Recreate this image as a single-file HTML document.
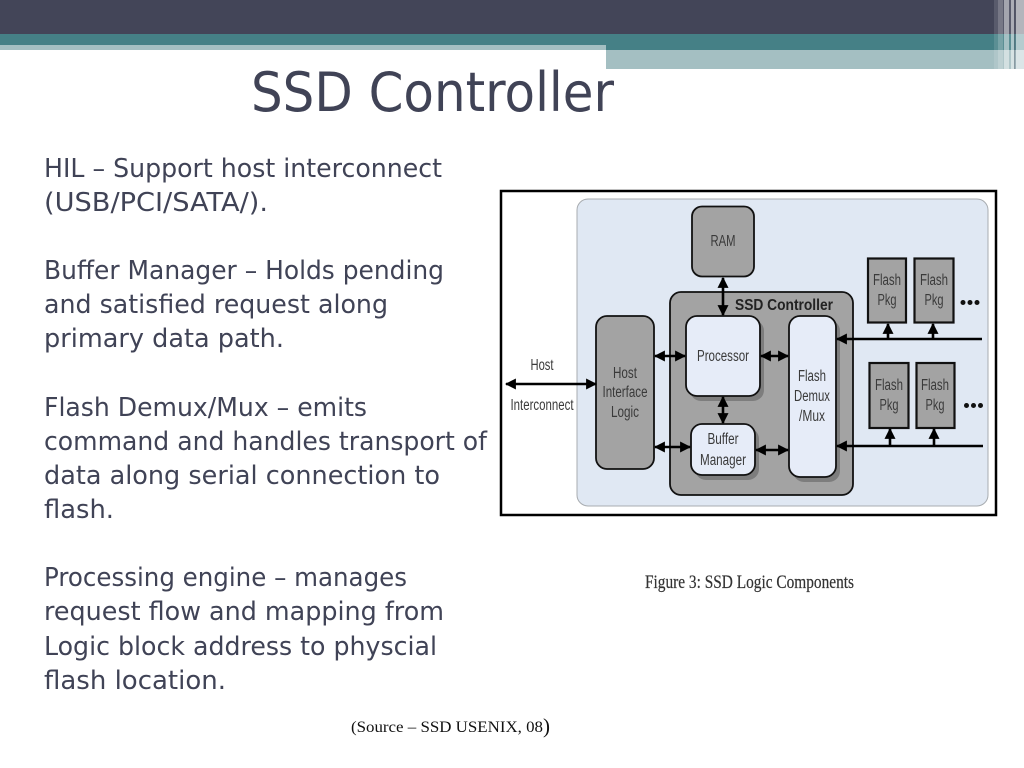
<!DOCTYPE html>
<html>
<head>
<meta charset="utf-8">
<style>
html,body{margin:0;padding:0;background:#fff;width:1024px;height:768px;overflow:hidden}
svg{display:block}
.b{font-family:"DejaVu Sans",sans-serif;font-size:26px;fill:#404356}
.d{font-family:"Liberation Sans",sans-serif;font-size:15.5px;fill:#3a3a3a;text-anchor:middle}
</style>
</head>
<body>
<svg width="1024" height="768" viewBox="0 0 1024 768" xmlns="http://www.w3.org/2000/svg">
<defs>
<marker id="a" viewBox="0 0 10 10" refX="9" refY="5" markerWidth="11" markerHeight="11" markerUnits="userSpaceOnUse" orient="auto-start-reverse"><path d="M0 0L10 5L0 10Z" fill="#000"/></marker>
</defs>
<!-- header -->
<rect x="0" y="0" width="1024" height="34" fill="#434558"/>
<rect x="0" y="34" width="1024" height="11" fill="#458086"/>
<rect x="606" y="45" width="418" height="5" fill="#458086"/>
<rect x="0" y="45" width="606" height="5" fill="#a4bfc2"/>
<rect x="606" y="50" width="418" height="19" fill="#a4bfc2"/>
<!-- right stripes -->
<g>
<rect x="994" y="0" width="30" height="69" fill="#fff" opacity=".12"/>
<rect x="998" y="0" width="5" height="69" fill="#fff" opacity=".18"/>
<rect x="1004" y="0" width="5" height="69" fill="#fff" opacity=".45"/>
<rect x="1011" y="0" width="3" height="69" fill="#fff" opacity=".5"/>
<rect x="1016" y="0" width="8" height="69" fill="#fff" opacity=".55"/>
<rect x="1014" y="0" width="1.500" height="69" fill="#434558" opacity=".35"/>
</g>
<!-- title -->
<text x="251" y="111" font-family="'DejaVu Sans',sans-serif" font-size="54" fill="#404356" textLength="363" lengthAdjust="spacingAndGlyphs">SSD Controller</text>
<!-- body -->
<text class="b" x="44" y="177" textLength="398" lengthAdjust="spacingAndGlyphs">HIL – Support host interconnect</text>
<text class="b" x="44" y="211" textLength="224" lengthAdjust="spacingAndGlyphs">(USB/PCI/SATA/).</text>
<text class="b" x="44" y="279" textLength="400" lengthAdjust="spacingAndGlyphs">Buffer Manager – Holds pending</text>
<text class="b" x="44" y="313" textLength="344" lengthAdjust="spacingAndGlyphs">and satisfied request along</text>
<text class="b" x="44" y="347" textLength="240" lengthAdjust="spacingAndGlyphs">primary data path.</text>
<text class="b" x="44" y="416" textLength="323" lengthAdjust="spacingAndGlyphs">Flash Demux/Mux – emits</text>
<text class="b" x="44" y="450" textLength="443" lengthAdjust="spacingAndGlyphs">command and handles transport of</text>
<text class="b" x="44" y="484" textLength="396" lengthAdjust="spacingAndGlyphs">data along serial connection to</text>
<text class="b" x="44" y="518" textLength="70" lengthAdjust="spacingAndGlyphs">flash.</text>
<text class="b" x="44" y="586" textLength="363" lengthAdjust="spacingAndGlyphs">Processing engine – manages</text>
<text class="b" x="44" y="620" textLength="400" lengthAdjust="spacingAndGlyphs">request flow and mapping from</text>
<text class="b" x="44" y="655" textLength="393" lengthAdjust="spacingAndGlyphs">Logic block address to physcial</text>
<text class="b" x="44" y="689" textLength="182" lengthAdjust="spacingAndGlyphs">flash location.</text>
<!-- source -->
<text x="351" y="732" font-family="'Liberation Serif',serif" font-size="15.500" fill="#111" textLength="192" lengthAdjust="spacingAndGlyphs">(Source – SSD USENIX, 08</text>
<text x="543" y="733" font-family="'Liberation Serif',serif" font-size="21" fill="#111">)</text>
<!-- caption -->
<text x="645" y="588" font-family="'Liberation Serif',serif" font-size="19" fill="#333" stroke="#333" stroke-width=".2" textLength="209" lengthAdjust="spacingAndGlyphs">Figure 3: SSD Logic Components</text>
<!-- frame -->
<rect x="501" y="191" width="495" height="324" fill="#fff" stroke="#000" stroke-width="2.500"/>
<rect x="577" y="199" width="411" height="307" rx="11" fill="#e0e8f3" stroke="#a8acb0" stroke-width="1"/>
<!-- RAM -->
<rect x="692" y="206.500" width="62" height="70" rx="10" fill="#a3a3a3" stroke="#111" stroke-width="1.800"/>
<text class="d" x="723" y="246" textLength="25" lengthAdjust="spacingAndGlyphs">RAM</text>
<!-- controller -->
<rect x="670" y="292" width="183" height="203" rx="11" fill="#a3a3a3" stroke="#111" stroke-width="1.800"/>
<text x="784" y="310" font-family="'Liberation Sans',sans-serif" font-size="16" font-weight="bold" fill="#222" text-anchor="middle" textLength="98" lengthAdjust="spacingAndGlyphs">SSD Controller</text>
<!-- shadows -->
<rect x="690" y="320" width="74" height="81" rx="11" fill="#7d7d7d"/>
<rect x="695" y="428" width="64" height="52" rx="11" fill="#7d7d7d"/>
<rect x="793" y="320" width="47" height="162" rx="11" fill="#7d7d7d"/>
<!-- processor -->
<rect x="686" y="316" width="74" height="80" rx="11" fill="#e6ecf8" stroke="#111" stroke-width="1.800"/>
<text class="d" x="723" y="361" textLength="52" lengthAdjust="spacingAndGlyphs">Processor</text>
<!-- buffer -->
<rect x="691" y="424" width="64" height="51" rx="11" fill="#e6ecf8" stroke="#111" stroke-width="1.800"/>
<text class="d" x="723" y="444" textLength="31" lengthAdjust="spacingAndGlyphs">Buffer</text>
<text class="d" x="723" y="465" textLength="46" lengthAdjust="spacingAndGlyphs">Manager</text>
<!-- flash demux -->
<rect x="789" y="316" width="47" height="161" rx="11" fill="#e6ecf8" stroke="#111" stroke-width="1.800"/>
<text class="d" x="812" y="381" textLength="28" lengthAdjust="spacingAndGlyphs">Flash</text>
<text class="d" x="812" y="401" textLength="36" lengthAdjust="spacingAndGlyphs">Demux</text>
<text class="d" x="812" y="421" textLength="26" lengthAdjust="spacingAndGlyphs">/Mux</text>
<!-- host iface -->
<rect x="596" y="316" width="58" height="153" rx="11" fill="#a3a3a3" stroke="#111" stroke-width="1.800"/>
<text class="d" x="625" y="378" textLength="24" lengthAdjust="spacingAndGlyphs">Host</text>
<text class="d" x="625" y="397" textLength="45" lengthAdjust="spacingAndGlyphs">Interface</text>
<text class="d" x="625" y="417" textLength="28" lengthAdjust="spacingAndGlyphs">Logic</text>
<!-- host labels -->
<text class="d" x="542" y="370" textLength="23" lengthAdjust="spacingAndGlyphs">Host</text>
<text class="d" x="542" y="410" textLength="63" lengthAdjust="spacingAndGlyphs">Interconnect</text>
<!-- flash pkgs -->
<g fill="#a3a3a3" stroke="#111" stroke-width="2.200">
<rect x="868" y="258.500" width="38" height="64"/>
<rect x="914.500" y="258.500" width="39" height="64"/>
<rect x="869.500" y="363" width="39" height="65"/>
<rect x="916.500" y="363" width="38" height="65"/>
</g>
<text class="d" x="887" y="285" textLength="28" lengthAdjust="spacingAndGlyphs">Flash</text><text class="d" x="887" y="305" textLength="19" lengthAdjust="spacingAndGlyphs">Pkg</text>
<text class="d" x="934" y="285" textLength="28" lengthAdjust="spacingAndGlyphs">Flash</text><text class="d" x="934" y="305" textLength="19" lengthAdjust="spacingAndGlyphs">Pkg</text>
<text class="d" x="889" y="390" textLength="28" lengthAdjust="spacingAndGlyphs">Flash</text><text class="d" x="889" y="410" textLength="19" lengthAdjust="spacingAndGlyphs">Pkg</text>
<text class="d" x="935" y="390" textLength="28" lengthAdjust="spacingAndGlyphs">Flash</text><text class="d" x="935" y="410" textLength="19" lengthAdjust="spacingAndGlyphs">Pkg</text>
<!-- dots -->
<g fill="#111">
<circle cx="963" cy="302.500" r="2.500"/><circle cx="970" cy="302.500" r="2.500"/><circle cx="977" cy="302.500" r="2.500"/>
<circle cx="966.500" cy="405.500" r="2.500"/><circle cx="973.500" cy="405.500" r="2.500"/><circle cx="980.500" cy="405.500" r="2.500"/>
</g>
<!-- arrows -->
<g stroke="#000" stroke-width="2.600" fill="none">
<line x1="506" y1="384" x2="596" y2="384" marker-start="url(#a)" marker-end="url(#a)"/>
<line x1="655" y1="356" x2="685" y2="356" marker-start="url(#a)" marker-end="url(#a)"/>
<line x1="655" y1="447" x2="690" y2="447" marker-start="url(#a)" marker-end="url(#a)"/>
<line x1="723" y1="278" x2="723" y2="315" marker-start="url(#a)" marker-end="url(#a)"/>
<line x1="723" y1="397" x2="723" y2="423" marker-start="url(#a)" marker-end="url(#a)"/>
<line x1="761" y1="356" x2="788" y2="356" marker-start="url(#a)" marker-end="url(#a)"/>
<line x1="756" y1="450" x2="788" y2="450" marker-start="url(#a)" marker-end="url(#a)"/>
<line x1="982" y1="339" x2="837" y2="339" marker-end="url(#a)"/>
<line x1="983" y1="446" x2="837" y2="446" marker-end="url(#a)"/>
<line x1="888" y1="339" x2="888" y2="324" marker-end="url(#a)"/>
<line x1="933" y1="339" x2="933" y2="324" marker-end="url(#a)"/>
<line x1="890" y1="446" x2="890" y2="429" marker-end="url(#a)"/>
<line x1="934" y1="446" x2="934" y2="429" marker-end="url(#a)"/>
</g>
</svg>
</body>
</html>
